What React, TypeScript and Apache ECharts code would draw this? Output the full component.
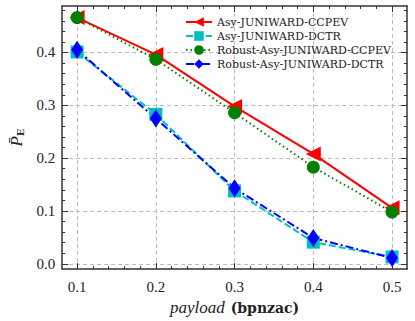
import React, { useEffect, useRef } from "react";
import * as echarts from "echarts";

const payloads = [0.1, 0.2, 0.3, 0.4, 0.5];
const asyCcpev = [0.466, 0.396, 0.298, 0.208, 0.106];
const asyDctr = [0.401, 0.283, 0.138, 0.041, 0.013];
const robustCcpev = [0.466, 0.387, 0.286, 0.183, 0.098];
const robustDctr = [0.405, 0.275, 0.143, 0.049, 0.011];
const seriesNames = [
  "Asy-JUNIWARD-CCPEV",
  "Asy-JUNIWARD-DCTR",
  "Robust-Asy-JUNIWARD-CCPEV",
  "Robust-Asy-JUNIWARD-DCTR",
];
const xTicks = [0.1, 0.2, 0.3, 0.4, 0.5];
const xMinor = [0.12, 0.14, 0.16, 0.18, 0.22, 0.24, 0.26, 0.28, 0.32, 0.34, 0.36, 0.38, 0.42, 0.44, 0.46, 0.48];
const yTicks = [0.0, 0.1, 0.2, 0.3, 0.4];
const yMinor = [0.02, 0.04, 0.06, 0.08, 0.12, 0.14, 0.16, 0.18, 0.22, 0.24, 0.26, 0.28, 0.32, 0.34, 0.36, 0.38, 0.42, 0.44, 0.46, 0.48];

const FONT = "'DejaVu Serif', serif";
const FONT2 = "'Liberation Serif', serif";
const AX = "#333";

export default function App() {
  const ref = useRef<HTMLDivElement>(null);
  useEffect(() => {
    const chart = echarts.init(ref.current!, null, { renderer: "svg" });
    const xr = { min: 0.081, max: 0.519 };
    const yr = { min: -0.01, max: 0.488 };
    const baseX = (pos: string, vals: number[], len: number, main: boolean, line: boolean) => ({
      type: "value",
      position: pos,
      ...xr,
      axisLine: { show: line, onZero: false, lineStyle: { color: AX, width: 1.5 } },
      axisTick: { show: true, inside: true, length: len, customValues: vals, lineStyle: { color: AX, width: 1 } },
      axisLabel: main
        ? { show: true, customValues: xTicks, fontFamily: FONT2, fontSize: 15, color: "#222", margin: 10, formatter: (v: number) => v.toFixed(1) }
        : { show: false },
      splitLine: main ? { show: true, lineStyle: { type: [4, 3], color: "#bbb", width: 1 } } : { show: false },
    });
    const baseY = (pos: string, vals: number[], len: number, main: boolean, line: boolean) => ({
      type: "value",
      position: pos,
      ...yr,
      axisLine: { show: line, onZero: false, lineStyle: { color: AX, width: 1.5 } },
      axisTick: { show: true, inside: true, length: len, customValues: vals, lineStyle: { color: AX, width: 1 } },
      axisLabel: main
        ? { show: true, customValues: yTicks, fontFamily: FONT2, fontSize: 15, color: "#222", margin: 7, formatter: (v: number) => v.toFixed(1) }
        : { show: false },
      splitLine: main ? { show: true, lineStyle: { type: [4, 3], color: "#bbb", width: 1 } } : { show: false },
    });
    const xAxes: any[] = [
      baseX("bottom", xTicks, 6, true, true),
      baseX("bottom", xMinor, 3, false, false),
      baseX("top", xTicks, 6, false, true),
      baseX("top", xMinor, 3, false, false),
    ];
    xAxes[0].name = "{i|payload}  {b|(bpnzac)}";
    xAxes[0].nameLocation = "middle";
    xAxes[0].nameGap = 27;
    xAxes[0].nameTextStyle = {
      fontFamily: FONT2,
      rich: {
        i: { fontFamily: FONT2, fontStyle: "italic", fontSize: 17, color: "#222" },
        b: { fontFamily: FONT, fontWeight: "bold", fontSize: 14, color: "#222" },
      },
    };
    const yAxes: any[] = [
      baseY("left", yTicks, 6, true, true),
      baseY("left", yMinor, 3, false, false),
      baseY("right", yTicks, 6, false, true),
      baseY("right", yMinor, 3, false, false),
    ];
    yAxes[0].name = "{p|P̄}{e|E}";
    yAxes[0].nameLocation = "middle";
    yAxes[0].nameGap = 33;
    yAxes[0].nameRotate = 90;
    yAxes[0].nameTextStyle = {
      fontFamily: FONT2,
      rich: {
        p: { fontFamily: FONT2, fontStyle: "italic", fontSize: 17, color: "#222" },
        e: { fontFamily: FONT, fontWeight: "bold", fontSize: 10, color: "#222", padding: [8, 0, 0, 0] },
      },
    };
    const mk = (name: string, data: number[], color: string, type: any, symbol: string, size: any, rot = 0) => ({
      name,
      type: "line",
      data: payloads.map((p, i) => [p, data[i]]),
      symbol,
      symbolSize: size,
      symbolRotate: rot,
      itemStyle: { color },
      lineStyle: { color, width: 2, type },
    });
    chart.setOption({
      animation: false,
      grid: { left: 57, right: 8, top: 6, bottom: 51, containLabel: false },
      xAxis: xAxes,
      yAxis: yAxes,
      legend: {
        left: 180,
        top: 11,
        orient: "vertical",
        itemGap: 2,
        itemWidth: 26,
        itemHeight: 12,
        textStyle: { fontFamily: FONT, fontSize: 11, color: "#222", lineHeight: 12 },
        data: seriesNames,
      },
      series: [
        mk(seriesNames[0], asyCcpev, "#ff0000", "solid", "triangle", 15, 90),
        mk(seriesNames[1], asyDctr, "#00bfbf", [7, 3], "rect", 13),
        mk(seriesNames[2], robustCcpev, "#008000", [1.5, 3], "circle", 13),
        mk(seriesNames[3], robustDctr, "#0000ff", [8, 3, 2, 3], "diamond", [12, 18]),
      ],
    });
    return () => chart.dispose();
  }, []);
  return <div ref={ref} style={{ width: 415, height: 321, position: "absolute", left: 0, top: 0 }} />;
}
